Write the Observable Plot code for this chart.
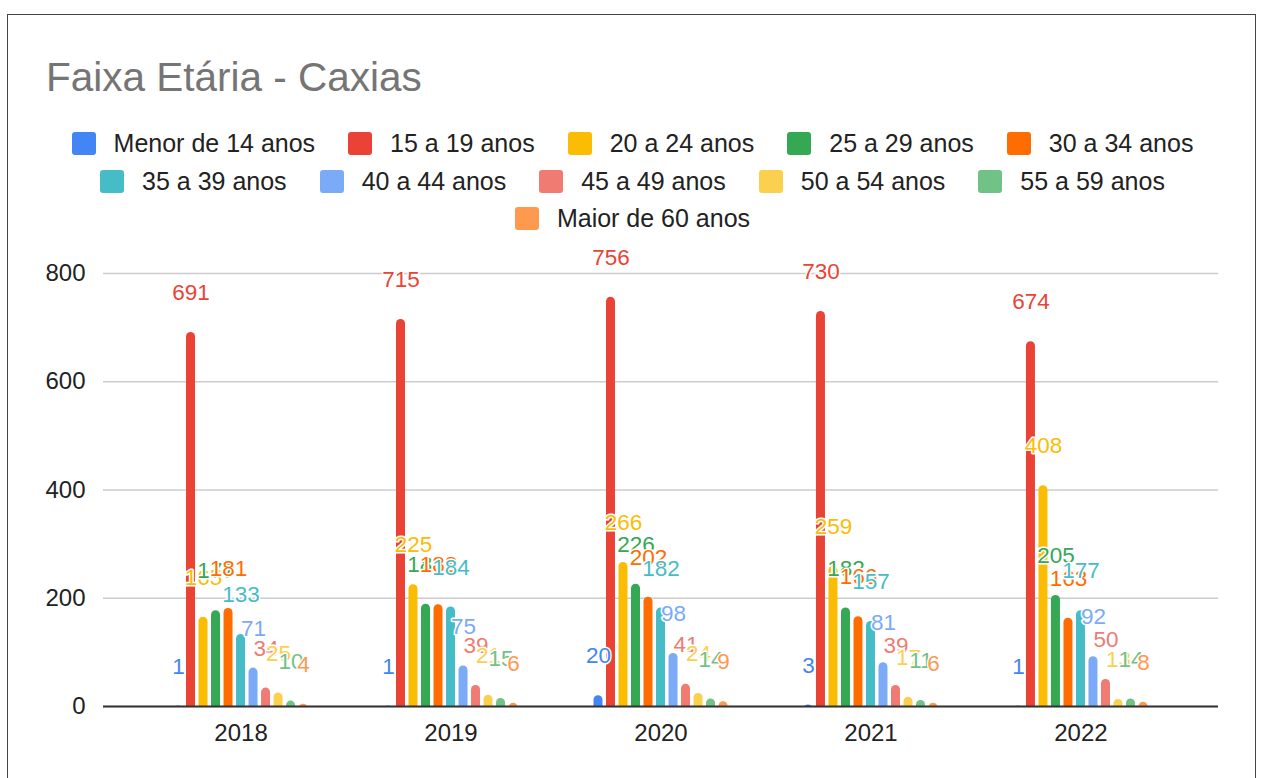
<!DOCTYPE html>
<html>
<head>
<meta charset="utf-8">
<script src="https://cdn.jsdelivr.net/npm/d3@7"></script>
<script src="https://cdn.jsdelivr.net/npm/@observablehq/plot@0.6"></script>
<style>
  html, body { margin: 0; padding: 0; background: #fff; }
  #wrap { position: relative; width: 1265px; height: 778px; overflow: hidden; font-family: "Liberation Sans", Arial, sans-serif; }
  #frame { position: absolute; left: 7px; top: 14px; width: 1249px; height: 800px; border: 1px solid #444; box-sizing: border-box; }
  #title { position: absolute; left: 46px; top: 54px; font-size: 40.5px; color: #757575; line-height: 46px; white-space: nowrap; }
  .lrow { position: absolute; left: 0; width: 1265px; display: flex; justify-content: center; align-items: center; height: 30px; }
  .item { display: flex; align-items: center; margin: 0 16.5px; }
  .sw { width: 24px; height: 23px; border-radius: 3px; margin-right: 18px; }
  .lt { font-size: 25px; color: #222; white-space: nowrap; }
  #chart { position: absolute; left: 0; top: 240px; width: 1265px; height: 538px; }
  #chart svg { position: absolute; left: 0; top: 0; }
</style>
</head>
<body>
<div id="wrap">
  <div id="frame"></div>
  <div id="title">Faixa Etária - Caxias</div>
  <div id="legend"></div>
  <div id="chart"></div>
</div>
<script>
// ---- data ----
const years = ["2018", "2019", "2020", "2021", "2022"];
const faixas = ["Menor de 14 anos", "15 a 19 anos", "20 a 24 anos", "25 a 29 anos", "30 a 34 anos",
  "35 a 39 anos", "40 a 44 anos", "45 a 49 anos", "50 a 54 anos", "55 a 59 anos", "Maior de 60 anos"];
const cores = ["#4285F4", "#EA4335", "#FBBC04", "#34A853", "#FF6D01",
  "#46BDC6", "#7BAAF7", "#F07B72", "#FCD04F", "#71C287", "#FF994D"];
const menor14 = [1, 1, 20, 3, 1];
const a15_19 = [691, 715, 756, 730, 674];
const a20_24 = [165, 225, 266, 259, 408];
const a25_29 = [177, 189, 226, 182, 205];
const a30_34 = [181, 188, 202, 166, 163];
const a35_39 = [133, 184, 182, 157, 177];
const a40_44 = [71, 75, 98, 81, 92];
const a45_49 = [34, 39, 41, 39, 50];
const a50_54 = [25, 21, 24, 17, 13];
const a55_59 = [10, 15, 14, 11, 14];
const maior60 = [4, 6, 9, 6, 8];
const yTicks = [0, 200, 400, 600, 800];

const series = [menor14, a15_19, a20_24, a25_29, a30_34, a35_39, a40_44, a45_49, a50_54, a55_59, maior60];
const rows = [];
years.forEach((year, yi) => {
  faixas.forEach((faixa, fi) => rows.push({ year, faixa, value: series[fi][yi] }));
});

// ---- legend ----
const legend = document.getElementById("legend");
const legendRows = [faixas.slice(0, 5), faixas.slice(5, 10), faixas.slice(10)];
const rowTops = [128, 166, 203];
legendRows.forEach((names, r) => {
  const row = document.createElement("div");
  row.className = "lrow";
  row.style.top = rowTops[r] + "px";
  names.forEach(n => {
    const it = document.createElement("div");
    it.className = "item";
    const sw = document.createElement("div");
    sw.className = "sw";
    sw.style.background = cores[faixas.indexOf(n)];
    const t = document.createElement("span");
    t.className = "lt";
    t.textContent = n;
    it.appendChild(sw); it.appendChild(t);
    row.appendChild(it);
  });
  legend.appendChild(row);
});

// ---- chart ----
const W = 1265, H = 538;
const M = { marginLeft: 103, marginRight: 47, marginTop: 33, marginBottom: 72 };
const font = { fontFamily: "'Liberation Sans', Arial, sans-serif", fontSize: "24px", color: "#222", background: "transparent", overflow: "visible" };
const chart = document.getElementById("chart");

// bottom layer: grid
const grid = Plot.plot({
  width: W, height: H, ...M,
  x: { domain: [0, 1], axis: null },
  y: { domain: [0, 800], axis: null },
  style: font,
  marks: [Plot.ruleY(yTicks, { stroke: "#cccccc", strokeWidth: 1.5 })]
});
chart.appendChild(grid);

// middle layer: grouped bars
const bars = Plot.plot({
  width: W, height: H, ...M,
  facet: { data: rows, x: "year" },
  fx: { domain: years, paddingInner: 0.345, paddingOuter: 0.3275, round: false, label: null, tickSize: 0, tickPadding: 17 },
  x: { domain: faixas, axis: null, paddingInner: 0.28, paddingOuter: 0.14, round: false },
  y: { domain: [0, 800], axis: null },
  color: { domain: faixas, range: cores },
  style: font,
  marks: [
    Plot.barY(rows, { x: "faixa", y: "value", fill: "faixa", rx: 4.5, insetBottom: -6, clip: true }),
    Plot.text(rows, { x: "faixa", y: "value", text: d => String(d.value), fill: "faixa",
      stroke: "white", strokeWidth: 3, paintOrder: "stroke", dy: -39.5, fontSize: 22.5 })
  ]
});
chart.appendChild(bars);

// top layer: y axis labels and baseline
const axes = Plot.plot({
  width: W, height: H, ...M,
  x: { domain: [0, 1], axis: null },
  y: { domain: [0, 800], ticks: yTicks, tickSize: 0, tickPadding: 18, label: null },
  style: font,
  marks: [Plot.ruleY([0], { stroke: "#333", strokeWidth: 2 })]
});
chart.appendChild(axes);
</script>
</body>
</html>
